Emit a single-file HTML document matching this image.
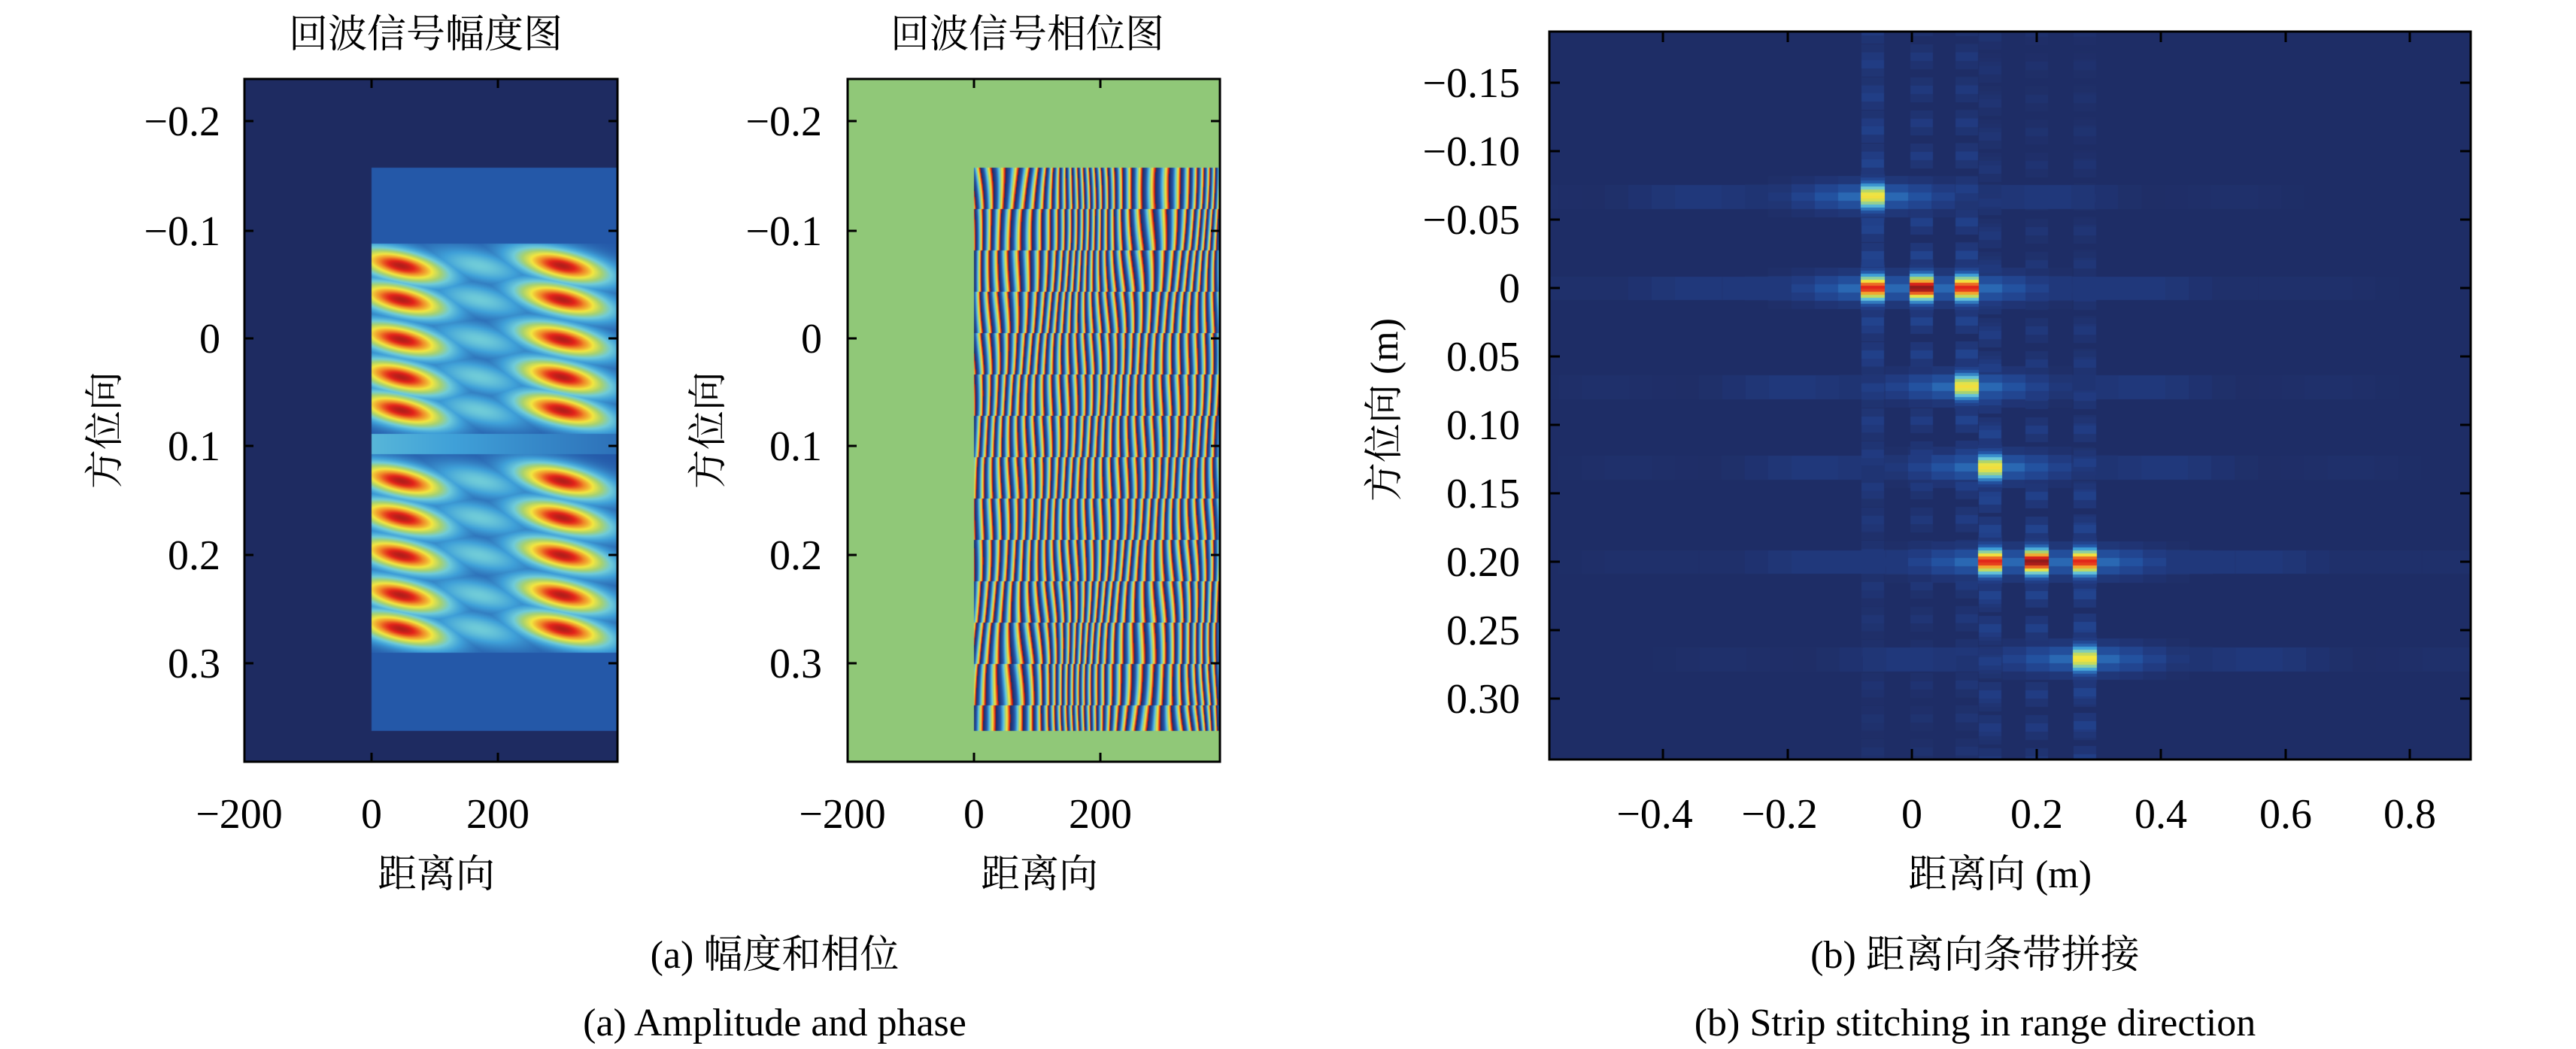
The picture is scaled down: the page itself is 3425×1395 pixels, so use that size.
<!DOCTYPE html>
<html><head><meta charset="utf-8">
<style>
html,body{margin:0;padding:0;background:#fff;}
body{width:3425px;height:1395px;position:relative;overflow:hidden;}
canvas{position:absolute;}
svg{position:absolute;left:0;top:0;}
</style></head><body>
<canvas id="c1" width="496" height="908" style="left:325px;top:105px;background:#1e2b61"></canvas>
<canvas id="c2" width="495" height="908" style="left:1127px;top:105px;background:#90c878"></canvas>
<canvas id="c3" width="1225" height="968" style="left:2060px;top:42px;background:#1e2b61"></canvas>
<svg width="3425" height="1395" font-family="'Liberation Serif','Noto Serif CJK SC',serif" font-size="56" fill="#000">
<g fill="none" stroke="#000" stroke-width="3">
<rect x="325" y="105" width="496" height="908"/>
<rect x="1127" y="105" width="495" height="908"/>
<rect x="2060" y="42" width="1225" height="968"/>
</g>
<g stroke="#000" stroke-width="3">
<path d="M494 1013v-12M662 1013v-12M494 105v12M662 105v12
M325 161h12M325 307h12M325 450h12M325 593h12M325 738h12M325 882h12
M821 161h-12M821 307h-12M821 450h-12M821 593h-12M821 738h-12M821 882h-12"/>
<path d="M1295 1013v-12M1463 1013v-12M1295 105v12M1463 105v12
M1127 161h12M1127 307h12M1127 450h12M1127 593h12M1127 738h12M1127 882h12
M1622 161h-12M1622 307h-12M1622 450h-12M1622 593h-12M1622 738h-12M1622 882h-12"/>
<path d="M2211 1010v-14M2377 1010v-14M2542 1010v-14M2708 1010v-14M2873 1010v-14M3039 1010v-14M3204 1010v-14
M2211 42v14M2377 42v14M2542 42v14M2708 42v14M2873 42v14M3039 42v14M3204 42v14
M2060 110h14M2060 201h14M2060 292h14M2060 383h14M2060 474h14M2060 565h14M2060 656h14M2060 747h14M2060 838h14M2060 929h14
M3285 110h-14M3285 201h-14M3285 292h-14M3285 383h-14M3285 474h-14M3285 565h-14M3285 656h-14M3285 747h-14M3285 838h-14M3285 929h-14"/>
</g>
<g font-size="52" text-anchor="middle">
<text x="566" y="63">回波信号幅度图</text>
<text x="1366" y="63">回波信号相位图</text>
<text x="580" y="1180">距离向</text>
<text x="1382" y="1180">距离向</text>
<text x="2659" y="1180">距离向 (m)</text>
<text x="1030" y="1287">(a) 幅度和相位</text>
<text x="1030" y="1377">(a) Amplitude and phase</text>
<text x="2626" y="1287">(b) 距离向条带拼接</text>
<text x="2626" y="1377">(b) Strip stitching in range direction</text>
<text transform="translate(157,572) rotate(-90)">方位向</text>
<text transform="translate(959,572) rotate(-90)">方位向</text>
<text transform="translate(1858,545) rotate(-90)">方位向 (m)</text>
</g>
<g text-anchor="end">
<text x="293" y="180">−0.2</text><text x="293" y="326">−0.1</text><text x="293" y="469">0</text>
<text x="293" y="612">0.1</text><text x="293" y="757">0.2</text><text x="293" y="901">0.3</text>
<text x="1093" y="180">−0.2</text><text x="1093" y="326">−0.1</text><text x="1093" y="469">0</text>
<text x="1093" y="612">0.1</text><text x="1093" y="757">0.2</text><text x="1093" y="901">0.3</text>
<text x="2021" y="129">−0.15</text><text x="2021" y="220">−0.10</text><text x="2021" y="311">−0.05</text>
<text x="2021" y="402">0</text><text x="2021" y="493">0.05</text><text x="2021" y="584">0.10</text>
<text x="2021" y="675">0.15</text><text x="2021" y="766">0.20</text><text x="2021" y="857">0.25</text><text x="2021" y="948">0.30</text>
</g>
<g text-anchor="middle">
<text x="318" y="1101">−200</text><text x="494" y="1101">0</text><text x="662" y="1101">200</text>
<text x="1120" y="1101">−200</text><text x="1295" y="1101">0</text><text x="1463" y="1101">200</text>
<text x="2200" y="1101">−0.4</text><text x="2366" y="1101">−0.2</text><text x="2542" y="1101">0</text>
<text x="2708" y="1101">0.2</text><text x="2873" y="1101">0.4</text><text x="3039" y="1101">0.6</text><text x="3204" y="1101">0.8</text>
</g>
</svg>
<script>
var stops=[[0,[30,43,97]],[0.15,[33,61,133]],[0.3,[36,88,168]],[0.45,[63,160,216]],[0.55,[111,203,216]],[0.65,[168,210,111]],[0.75,[242,230,64]],[0.85,[240,138,40]],[0.93,[226,35,26]],[1,[143,26,26]]];
function cm(v){v=Math.max(0,Math.min(1,v));for(var i=1;i<stops.length;i++){if(v<=stops[i][0]){var a=stops[i-1],b=stops[i],t=(v-a[0])/(b[0]-a[0]);return [a[1][0]+(b[1][0]-a[1][0])*t,a[1][1]+(b[1][1]-a[1][1])*t,a[1][2]+(b[1][2]-a[1][2])*t];}}return stops[stops.length-1][1];}
function draw(id,x0,y0,f){var c=document.getElementById(id),g=c.getContext('2d'),W=c.width,H=c.height,im=g.createImageData(W,H),d=im.data;
for(var y=0;y<H;y++)for(var x=0;x<W;x++){var v=f(x+x0,y+y0),k=(y*W+x)*4;var col=v<0?(v==-2?[144,200,120]:[30,43,97]):cm(v);d[k]=col[0];d[k+1]=col[1];d[k+2]=col[2];d[k+3]=255;}g.putImageData(im,0,0);}
var rows=[353,398,451,501,545,639,688,738,791,836];
draw('c1',325,105,function(X,Y){
 if(X<494||Y<223||Y>971)return -1;
 if(Y<324||Y>867)return 0.3;
 var v=0.27+0.06*Math.cos((X-494)/18+Y/9);
 for(var i=0;i<rows.length;i++){var dy0=Y-rows[i];if(Math.abs(dy0)>50)continue;
  var cs=[[533,0.97],[747,0.97],[637,0.55]];
  for(var j=0;j<3;j++){var dx=X-cs[j][0];var dy=dy0-dx*0.2;var e=Math.exp(-(dx*dx)/(2*46*46)-(dy*dy)/(2*15*15));v=Math.max(v,0.3+(cs[j][1]-0.3)*e);}
 }
 if(Math.abs(Y-590)<14)v=0.5-0.15*(X-494)/330;
 return Math.min(v,0.98);});
draw('c2',1127,105,function(X,Y){
 if(X<1295||Y<223||Y>971)return -2;
 var lx=X-1295,ly=Y-597;
 var band=Math.floor((Y-223)/55);
 var p=lx*0.6+ 2.5*Math.cos(lx/30)*Math.pow(ly/200,2)+band*1.3+1.5*Math.sin(lx/23+ly/40);
 var fr=p/(2*Math.PI);fr=fr-Math.floor(fr);return fr;});
var T=[[-0.063,-0.067,0.76],[-0.063,0,0.93],[0.015,0,1],[0.088,0,0.93],[0.088,0.072,0.76],[0.125,0.131,0.76],[0.125,0.2,0.93],[0.2,0.2,1],[0.277,0.2,0.93],[0.277,0.271,0.76]];
T=T.map(function(t){return [2542+t[0]*827.5,383+t[1]*1820,t[2]];});
draw('c3',2060,42,function(X,Y){
 var cy4=Math.floor(Y/4)*4+2;
 var v=0.02;
 for(var i=0;i<T.length;i++){var dx=X-T[i][0],dy=Y-T[i][1];
  var qx=Math.round(dx/31)*31,qy=Math.round(dy/11)*11;
  var core=Math.abs(dx)<16?T[i][2]*Math.exp(-Math.pow(cy4-T[i][1],2)/(2*14*14)):0;
  var vs=Math.abs(dx)<15?0.2*Math.exp(-Math.abs(qy)/500)*(0.55+0.45*Math.cos(qy/7)):0;
  var hs=Math.abs(dy)<16?0.28*Math.exp(-Math.abs(qx)/260)*(0.7+0.3*Math.cos(qx/40)):0;
  var halo=0.36*Math.exp(-qx*qx/(2*80*80)-qy*qy/(2*14*14));
  v=Math.max(v,core,vs,hs,halo);}
 return v;});
</script>
</body></html>
